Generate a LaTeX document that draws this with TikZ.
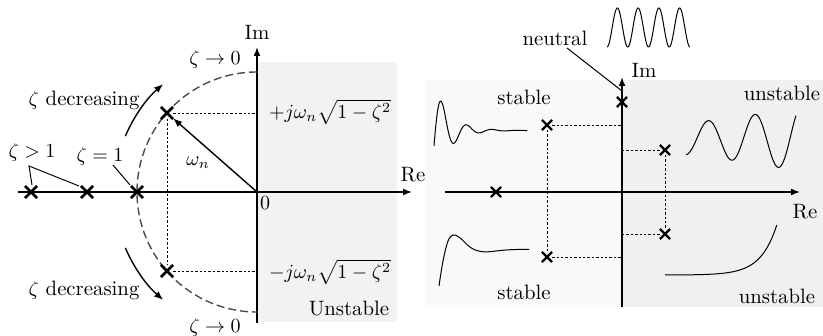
\documentclass[tikz,border=0pt]{standalone}
\usetikzlibrary{arrows.meta,shapes.misc}
\begin{document}
\begin{tikzpicture}[x=0.5pt,y=0.5pt,
  every node/.style={font=\fontsize{10.4}{12.5}\selectfont},
  axis/.style={line width=0.8pt,-{Latex[length=4.5pt,width=3.5pt]}},
  pole/.style={cross out,draw,line width=1.3pt,minimum size=4.8pt,inner sep=0pt},
  spole/.style={pole,minimum size=4pt,line width=1.1pt},
  guide/.style={line width=0.45pt,dash pattern=on 1.2pt off 1pt},
  sig/.style={line width=0.5pt},
  thinline/.style={line width=0.5pt},
  bentarrow/.style={line width=0.7pt,-{Latex[length=4.5pt,width=3.5pt]}},
]
\useasboundingbox (0,0) rectangle (823,336);
% shading
\fill[gray!10] (257,14) rectangle (397,274);
\fill[gray!5] (425,29) rectangle (622,256);
\fill[gray!12] (622,29) rectangle (823,256);

% ---------------- left plot ----------------
\coordinate (O) at (257,144);
\coordinate (reL) at (18,144); \coordinate (reR) at (412,144);
\coordinate (imB) at (257,13); \coordinate (imT) at (257,289);
\draw[axis] (reL) -- (reR);
\draw[axis] (imB) -- (imT);
\node (imlab) at (257,304) {Im};
\node (relab) at (413,161) {Re};
\node (zero) at (265,133) {$0$};

\draw[black!70,line width=0.7pt,dash pattern=on 4pt off 2pt] (257,264) arc[start angle=90,end angle=270,radius=120];

\node[pole] (p1) at (167,223) {};
\node[pole] (p2) at (167,65) {};
\node[pole] (a1) at (31,144) {};
\node[pole] (a2) at (87,144) {};
\node[pole] (a3) at (137,144) {};

\coordinate (q1) at (257,223);
\coordinate (q2) at (257,65);
\draw[guide] (p1) -- (q1);
\draw[guide] (p1) -- (p2);
\draw[guide] (p2) -- (q2);

\draw[bentarrow] (O) -- (p1);
\node (wn) at (198,173) {$\omega_n$};

\node[anchor=west] (pj) at (262,224) {$+j\omega_n\sqrt{1-\zeta^2}$};
\node[anchor=west] (mj) at (262,64) {$-j\omega_n\sqrt{1-\zeta^2}$};
\node (unst) at (349,27) {Unstable};
\node (zt) at (215,276) {$\zeta\to0$};
\node (zb) at (215,8) {$\zeta\to0$};
\node (dt) at (84,236) {$\zeta$ decreasing};
\node (db) at (84,46) {$\zeta$ decreasing};
\draw[bentarrow] ([shift={(157:143)}]O) arc[start angle=157,end angle=131,radius=143];
\draw[bentarrow] ([shift={(203:143)}]O) arc[start angle=203,end angle=229,radius=143];

\node (zg) at (32,183) {$\zeta>1$};
\coordinate (k) at (29,170);
\coordinate (k1) at (32,151);
\coordinate (k2) at (79,150);
\draw[thinline] (k1) -- (k) -- (k2);
\node (ze) at (100,179) {$\zeta=1$};
\coordinate (e1) at (113,171);
\coordinate (e2) at (130,151);
\draw[thinline] (e1) -- (e2);

% ---------------- right plot ----------------
\coordinate (O2) at (622,144);
\coordinate (rL) at (445,144); \coordinate (rR) at (800,144);
\coordinate (iB) at (622,29); \coordinate (iT) at (622,259);
\draw[axis] (rL) -- (rR);
\draw[axis] (iB) -- (iT);
\node (im2) at (644,266) {Im};
\node (re2) at (805,124) {Re};

\node (neu) at (555,298) {neutral};
\coordinate (n1) at (567,288);
\coordinate (n2) at (622,245);
\draw[thinline] (n1) -- (n2);
\draw[sig] plot[domain=0:83,samples=200] ({607+\x},{308.5-19.5*cos(deg(0.30281*\x))});

\node[spole] (s0) at (622,234) {};
\node[spole] (s1) at (547,211) {};
\node[spole] (s2) at (547,79) {};
\node[spole] (s3) at (665,186) {};
\node[spole] (s4) at (665,102) {};
\node[spole] (s5) at (496,144) {};

\coordinate (c1) at (622,211);
\coordinate (c2) at (622,79);
\coordinate (c3) at (622,186);
\coordinate (c4) at (622,102);
\draw[guide] (s1) -- (c1);
\draw[guide] (s1) -- (s2);
\draw[guide] (s2) -- (c2);
\draw[guide] (c3) -- (s3);
\draw[guide] (s3) -- (s4);
\draw[guide] (c4) -- (s4);

\node (st1) at (524,239) {stable};
\node (st2) at (524,44) {stable};
\node (un1) at (782,243) {unstable};
\node (un2) at (777,40) {unstable};

\draw[sig] plot[domain=0:93,samples=150] ({434+\x},{205.5+47*exp(-0.065*\x)*cos(deg(0.247*(\x-7.7)))});
\draw[sig] plot[smooth,tension=0.6] coordinates {(439,50) (443,75) (448,95) (453,101) (458,99.5) (463,95.5) (468,90.5) (474,86.5) (481,84.5) (488,84.2) (496,85) (506,86) (517,86.5) (529,86.5)};
\draw[sig] plot[domain=0:110,samples=150] ({686+\x},{197+15.9*exp(0.0063*\x)*cos(deg(0.1348*(\x-22.3)))});
\draw[sig] plot[domain=0:111.7,samples=100] ({665+\x},{61+0.049*(exp(0.062*\x)-1)});
\end{tikzpicture}
\end{document}
